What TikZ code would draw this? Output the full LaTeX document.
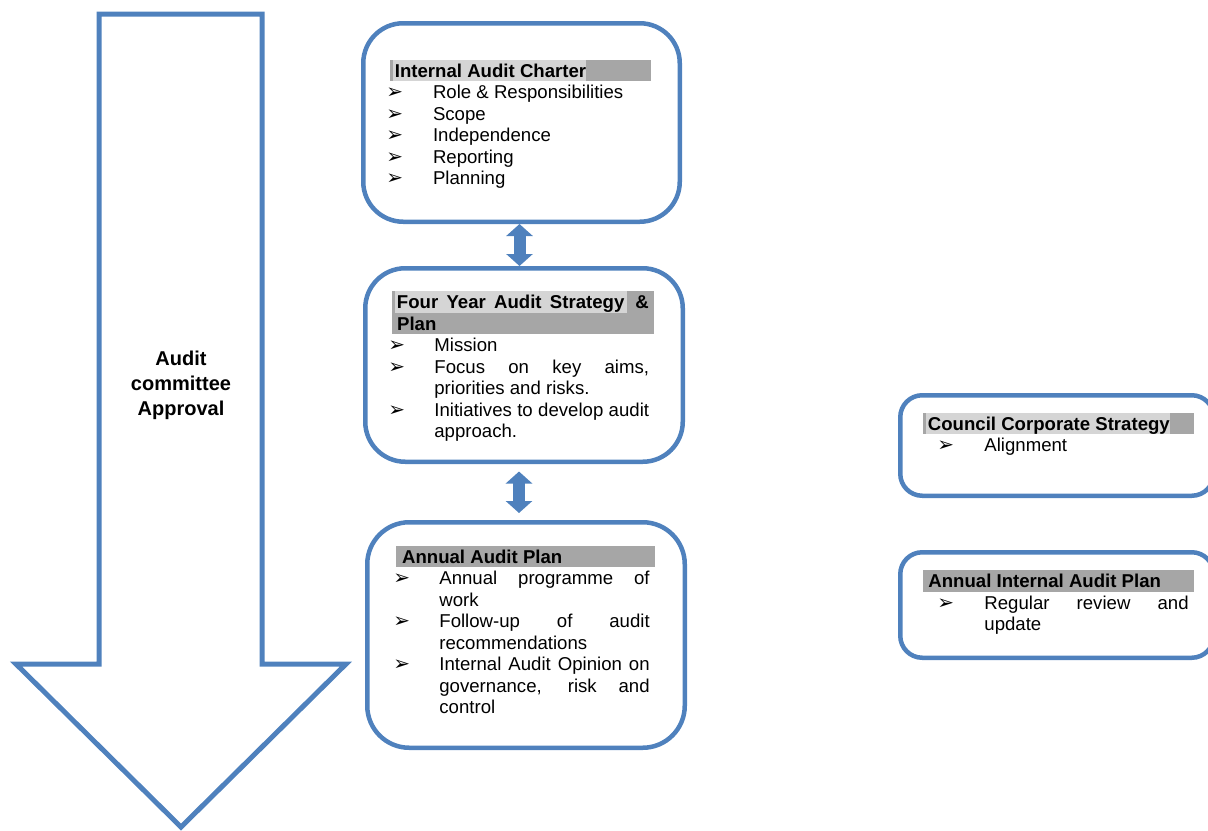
\documentclass[tikz,border=0pt]{standalone}
\usepackage{fontspec}
\setmainfont{Liberation Sans}
\newfontfamily\bulfont{DejaVu Sans}
\usetikzlibrary{arrows.meta,positioning}

\definecolor{auditblue}{HTML}{4F81BD}
\definecolor{hdrdark}{HTML}{A6A6A6}
\definecolor{hdrlight}{HTML}{D5D5D5}

\setlength{\parindent}{0pt}
\setlength{\fboxsep}{0pt}
\hyphenpenalty=10000
\exhyphenpenalty=10000
\hbadness=10000
\newlength{\itmind}
\newlength{\itmpre}
\newcommand{\bodyfont}{\fontsize{9.3}{10.75}\selectfont\spaceskip=2.6pt plus 20pt minus 0.3pt\relax}
\newcommand{\hstrut}{\rule[-2pt]{0pt}{10.75pt}}
\newcommand{\bul}{{\bulfont\fontsize{10}{10}\selectfont ➢}}
% header bar with a light part behind the title
\newcommand{\hdrtwo}[4]{\hspace*{#1}\colorbox{hdrdark}{\makebox[#2][l]{\hspace*{1.5pt}\colorbox{hdrlight}{\makebox[#3][l]{\hspace*{0.75pt}\hstrut\bfseries #4}}}}\par}
% header bar, dark only
\newcommand{\hdrone}[4]{\hspace*{#1}\colorbox{hdrdark}{\makebox[#2][l]{\hspace*{#3}\hstrut\bfseries #4}}\par}
\newcommand{\setitems}[3]{\setlength{\itmind}{#1}\setlength{\itmpre}{#2}\rightskip=#3\relax}
\newcommand{\itm}[1]{\par\hangindent=\itmind\noindent\hspace*{\itmpre}\makebox[\dimexpr\itmind-\itmpre\relax][l]{\bul}#1}

\begin{document}
\begin{tikzpicture}[
		x=0.5pt, y=-0.5pt,
		auditbox/.style={draw=auditblue, line width=2.25pt, rounded corners=#1, anchor=north west, inner sep=0pt},
		boxtext/.style={anchor=north west, inner sep=0pt, text width=#1, align=justify, font=\bodyfont},
		dblarrow/.style={draw=auditblue, line width=6pt, {Triangle[width=13pt,length=6pt]}-{Triangle[width=13pt,length=6pt]}},
		bigarrow/.style={draw=auditblue, line width=2.5pt},
		approval/.style={align=center, font=\fontsize{10}{12.5}\selectfont\bfseries}
		]
		
		\useasboundingbox (0,0) rectangle (1208,830);
		\clip (0,0) rectangle (1208,830);
		
		% big arrow
		\draw[bigarrow] (99,14) -- (262,14) -- (262,664) -- (346,664) -- (181,827) -- (16,664) -- (99,664) -- cycle;
		\node[approval] (approval) at (181,385) {Audit\\committee\\Approval};
		
		% boxes
		\node[auditbox=20pt, minimum width=158.25pt, minimum height=99.25pt] (charter) at (361,21) {};
		\node[auditbox=20pt, minimum width=158.75pt, minimum height=96.75pt] (strategy) at (363,266) {};
		\node[auditbox=21pt, minimum width=158.75pt, minimum height=112.75pt] (annual) at (365,520) {};
		\node[auditbox=11pt, minimum width=156.75pt, minimum height=50.25pt] (corporate) at (898,393) {};
		\node[auditbox=11pt, minimum width=156.75pt, minimum height=52.75pt] (iaplan) at (898,550) {};
		
		% box texts
		\node[boxtext=132.3pt] (charter-text) at (386,59.5) {%
			\hdrtwo{2pt}{130.5pt}{96.5pt}{Internal Audit Charter}%
			\setitems{23.3pt}{0pt}{2.5pt}%
			\itm{Role \& Responsibilities}%
			\itm{Scope}%
			\itm{Independence}%
			\itm{Reporting}%
			\itm{Planning}\par};
		
		\node[boxtext=133pt] (strategy-text) at (388,291) {%
			\hspace*{2pt}\colorbox{hdrdark}{\makebox[131pt][l]{\hspace*{1.5pt}\colorbox{hdrlight}{\makebox[116pt][s]{\hspace*{0.75pt}\hstrut\bfseries Four Year Audit Strategy\hspace*{1.5pt}}}\hfill\textbf{\&}\hspace*{2.85pt}}}\par
			\hdrone{2pt}{131pt}{2.35pt}{Plan}%
			\setitems{23pt}{0pt}{2.65pt}%
			\itm{Mission}%
			\itm{Focus on key aims,\linebreak priorities and risks.}%
			\itm{Initiatives to develop audit approach.}\par};
		
		\node[boxtext=131pt] (annual-text) at (393,545.5) {%
			\hdrone{1.35pt}{129.65pt}{3pt}{Annual Audit Plan}%
			\setitems{23pt}{0pt}{2.85pt}%
			\itm{Annual programme of\linebreak work}%
			\itm{Follow-up of audit\linebreak recommendations}%
			\itm{Internal Audit Opinion on\linebreak governance, risk and\linebreak control}\par};
		
		\node[boxtext=135.5pt] (corporate-text) at (923,412.5) {%
			\hdrtwo{0pt}{135.5pt}{122pt}{Council Corporate Strategy}%
			\setitems{30.5pt}{7pt}{2.85pt}%
			\itm{Alignment}\par};
		
		\node[boxtext=135.5pt] (iaplan-text) at (923,570) {%
			\hdrone{0pt}{135.5pt}{2.5pt}{Annual Internal Audit Plan}%
			\setitems{30.5pt}{7pt}{2.85pt}%
			\itm{Regular review and\linebreak update}\par};
		
		% links
		\draw[dblarrow] ([xshift=-1pt]charter.south) -- ([xshift=-1pt]charter.south |- strategy.north);
		\draw[dblarrow, shorten <=3.75pt, shorten >=3.5pt] ([xshift=-2.5pt]strategy.south) -- ([xshift=-2.5pt]strategy.south |- annual.north);
		
	\end{tikzpicture}
\end{document}
